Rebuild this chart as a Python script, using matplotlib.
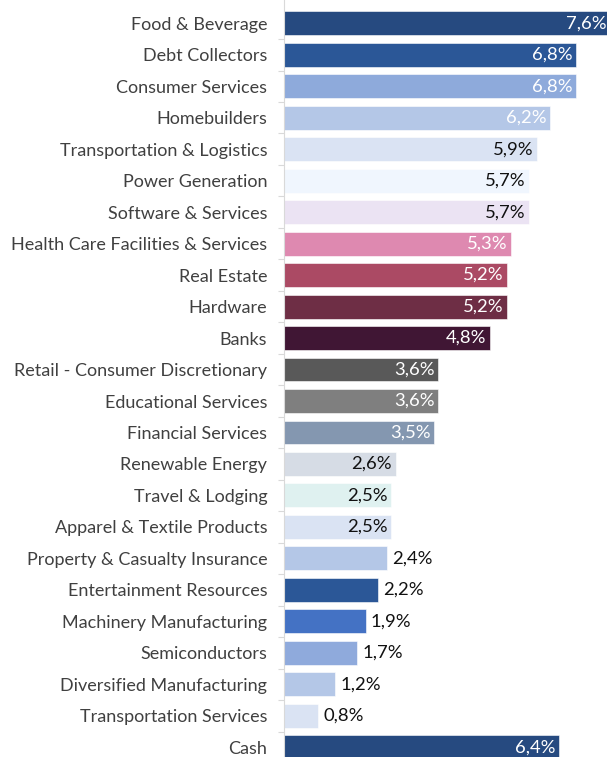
import matplotlib.pyplot as plt

plt.rcParams['font.family'] = ['Lato', 'DejaVu Sans']

sectors = [
    "Food & Beverage", "Debt Collectors", "Consumer Services", "Homebuilders",
    "Transportation & Logistics", "Power Generation", "Software & Services",
    "Health Care Facilities & Services", "Real Estate", "Hardware", "Banks",
    "Retail - Consumer Discretionary", "Educational Services", "Financial Services",
    "Renewable Energy", "Travel & Lodging", "Apparel & Textile Products",
    "Property & Casualty Insurance", "Entertainment Resources",
    "Machinery Manufacturing", "Semiconductors", "Diversified Manufacturing",
    "Transportation Services", "Cash",
]
weights = [7.6, 6.8, 6.8, 6.2, 5.9, 5.7, 5.7, 5.3, 5.2, 5.2, 4.8, 3.6,
           3.6, 3.5, 2.6, 2.5, 2.5, 2.4, 2.2, 1.9, 1.7, 1.2, 0.8, 6.4]
colors = [
    "#264a80", "#2b5797", "#8eaadb", "#b4c7e7", "#dae3f3", "#f0f6fe",
    "#ebe3f3", "#de89b0", "#ab4a64", "#6e2e45", "#401634", "#595959",
    "#7f7f7f", "#8497b0", "#d6dce5", "#dff1f0", "#dae3f3", "#b4c7e7",
    "#2b5797", "#4472c4", "#8faadc", "#b4c7e7", "#dae3f3", "#264a80",
]
# label placement: "w" = white inside, "k" = black inside, "o" = outside
label_style = ["w", "w", "w", "w", "k", "k", "k", "w", "w", "w", "w", "w",
               "w", "w", "k", "k", "k", "o", "o", "o", "o", "o", "o", "w"]

fig = plt.figure(figsize=(6.07, 7.57), dpi=100)
ax = fig.add_axes([284 / 607, 0, 323 / 607, 1])

ypos = list(range(len(sectors)))
ax.barh(ypos, weights, height=0.76, color=colors, edgecolor="white", linewidth=0.4)

for y, w, s in zip(ypos, weights, label_style):
    txt = f"{w:.1f}%".replace(".", ",")
    if s == "o":
        ax.text(w + 0.12, y, txt, ha="left", va="center", fontsize=13.3, color="#111111")
    else:
        ax.text(w - 0.08, y, txt, ha="right", va="center", fontsize=13.3,
                color="white" if s == "w" else "#111111")

ax.set_xlim(0, 7.53)
ax.set_ylim(23.31, -0.74)
ax.set_yticks(ypos)
ax.set_yticklabels(sectors, fontsize=13, color="#404040")
ax.set_yticks([i + 0.5 for i in ypos[:-1]], minor=True)
ax.tick_params(axis="y", which="major", length=0, pad=12)
ax.tick_params(axis="y", which="minor", length=4, color="#d9d9d9", width=0.8)
ax.set_xticks([])
for side in ["top", "right", "bottom"]:
    ax.spines[side].set_visible(False)
ax.spines["left"].set_color("#d9d9d9")
ax.spines["left"].set_linewidth(0.8)

fig.savefig("out.png", dpi=100)
